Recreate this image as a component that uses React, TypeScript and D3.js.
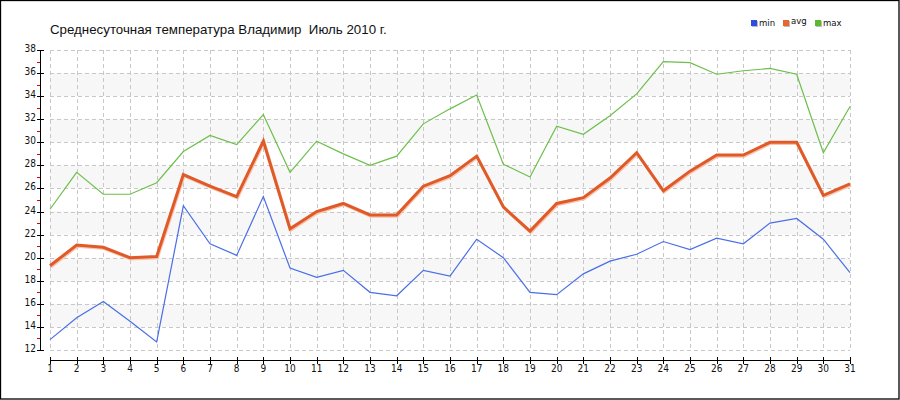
import React from "react";
import * as d3 from "d3";

const days = d3.range(1, 32);
const minT = [12.9, 14.8, 16.2, 14.5, 12.7, 24.5, 21.2, 20.2, 25.3, 19.1, 18.3, 18.9, 17.0, 16.7, 18.9, 18.4, 21.6, 20.0, 17.0, 16.8, 18.6, 19.7, 20.3, 21.4, 20.7, 21.7, 21.2, 23.0, 23.4, 21.6, 18.7];
const avgT = [19.3, 21.1, 20.9, 20.0, 20.1, 27.2, 26.2, 25.3, 30.1, 22.5, 24.0, 24.7, 23.7, 23.7, 26.2, 27.1, 28.8, 24.4, 22.3, 24.7, 25.2, 26.9, 29.1, 25.8, 27.5, 28.9, 28.9, 30.0, 30.0, 25.4, 26.4];
const maxT = [24.2, 27.4, 25.5, 25.5, 26.5, 29.2, 30.6, 29.8, 32.4, 27.4, 30.1, 29.0, 28.0, 28.8, 31.6, 32.9, 34.1, 28.1, 27.0, 31.4, 30.7, 32.3, 34.2, 37.0, 36.9, 35.9, 36.2, 36.4, 35.9, 29.1, 33.1];
const yTicks = d3.range(12, 39, 2);
const yMinorTicks = d3.range(13, 38, 2);
const bands: [number, number][] = [[14, 16], [18, 20], [22, 24], [26, 28], [30, 32], [34, 36]];
const title = "Среднесуточная температура Владимир  Июль 2010 г.";
const legend = [
  { name: "min", color: "#2b4fe0" },
  { name: "avg", color: "#e8662e" },
  { name: "max", color: "#5cb82e" },
];

export default function App() {
  const W = 900, H = 400;
  const x = d3.scaleLinear().domain([1, 31]).range([50, 850]);
  const y = d3.scaleLinear().domain([12, 38]).range([350, 50]);
  const line = d3.line<number>().x((_, i) => x(days[i])).y((v) => y(v));
  const axisFont = "'DejaVu Sans Condensed', 'DejaVu Sans', sans-serif";
  return (
    <svg width={W} height={H} style={{ position: "absolute", left: 0, top: 0, background: "#fff" }}>
      <rect x={0.5} y={0.5} width={898.5} height={398.5} fill="#fff" stroke="#000" strokeWidth={1.3} />
      {bands.map(([a, b], i) => (
        <rect key={i} x={x(1)} y={y(b)} width={x(31) - x(1)} height={y(a) - y(b)} fill="#f7f7f7" />
      ))}
      {yTicks.map((t) => (
        <line key={"h" + t} x1={x(1)} x2={x(31)} y1={Math.round(y(t)) + 0.5} y2={Math.round(y(t)) + 0.5} stroke="#c8c8c8" strokeDasharray="4,3" />
      ))}
      {days.map((d) => (
        <line key={"v" + d} x1={Math.round(x(d)) + 0.5} x2={Math.round(x(d)) + 0.5} y1={y(38)} y2={y(12)} stroke="#c8c8c8" strokeDasharray="4,3" />
      ))}
      {/* y axis */}
      <line x1={40.5} x2={40.5} y1={y(38)} y2={y(12)} stroke="#000" strokeWidth={1} />
      {yTicks.map((t) => (
        <g key={"yt" + t}>
          <line x1={37} x2={44} y1={Math.round(y(t)) + 0.5} y2={Math.round(y(t)) + 0.5} stroke="#000" />
          <text x={36} y={y(t) + 2} textAnchor="end" fontFamily={axisFont} fontSize={10} fill="#111">{t}</text>
        </g>
      ))}
      {yMinorTicks.map((t) => (
        <line key={"ym" + t} x1={37} x2={40} y1={Math.round(y(t)) + 0.5} y2={Math.round(y(t)) + 0.5} stroke="#e00000" />
      ))}
      {/* x axis */}
      <line x1={x(1)} x2={x(31)} y1={360.5} y2={360.5} stroke="#000" strokeWidth={1} />
      {days.map((d) => (
        <g key={"xt" + d}>
          <line x1={Math.round(x(d)) + 0.5} x2={Math.round(x(d)) + 0.5} y1={357} y2={364} stroke="#000" />
          <text x={x(d)} y={372} textAnchor="middle" fontFamily={axisFont} fontSize={10} fill="#111">{d}</text>
        </g>
      ))}
      {/* series */}
      <path d={line(minT) || ""} fill="none" stroke="#4a6ee8" strokeWidth={1.2} />
      <path d={line(maxT) || ""} fill="none" stroke="#6cbf4a" strokeWidth={1.2} />
      <path d={line(avgT) || ""} fill="none" stroke="#f6c4ae" strokeWidth={3} transform="translate(0.8,1.2)" />
      <path d={line(avgT) || ""} fill="none" stroke="#e05a28" strokeWidth={3} />
      {/* title */}
      <text x={50} y={34} fontFamily="'Liberation Sans', Arial, sans-serif" fontSize={13.3} fill="#111" style={{ whiteSpace: "pre" }}>{title}</text>
      {/* legend */}
      {legend.map((l, i) => {
        const lx = 751 + i * 32;
        return (
          <g key={l.name}>
            <rect x={lx + 1} y={21} width={6} height={6} fill="#bbb" />
            <rect x={lx} y={20} width={6} height={6} fill={l.color} />
            <text x={lx + 8} y={l.name === "avg" ? 24 : 26} fontFamily="'DejaVu Sans Condensed', 'DejaVu Sans', sans-serif" fontSize={9.5} fill="#111">{l.name}</text>
          </g>
        );
      })}
    </svg>
  );
}
